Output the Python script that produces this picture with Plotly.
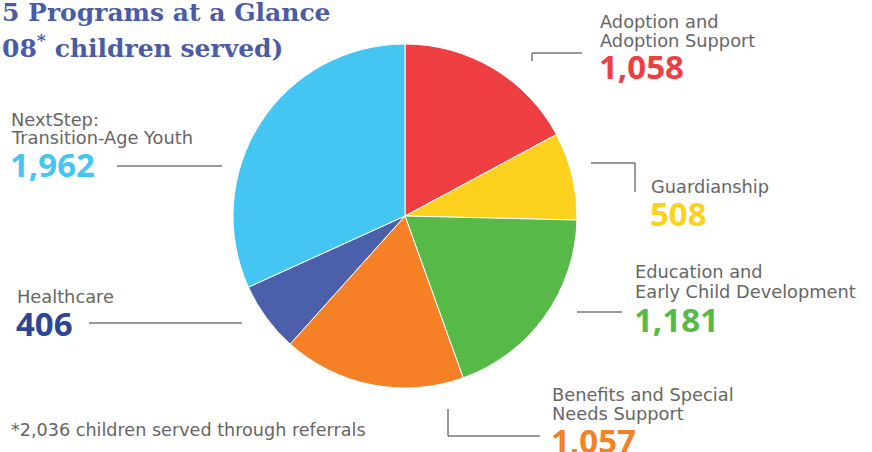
import plotly.graph_objects as go

W, H = 872, 452

categories = ["Adoption and Adoption Support", "Guardianship",
              "Education and Early Child Development", "Benefits and Special Needs Support",
              "Healthcare", "NextStep: Transition-Age Youth"]
values = [1058, 508, 1181, 1057, 406, 1962]
value_labels = ["1,058", "508", "1,181", "1,057", "406", "1,962"]
label_lines = [["Adoption and", "Adoption Support"], ["Guardianship"],
               ["Education and", "Early Child Development"], ["Benefits and Special", "Needs Support"],
               ["Healthcare"], ["NextStep:", "Transition-Age Youth"]]
slice_colors = ["#ee3e42", "#fdd21e", "#57b947", "#f58025", "#4c5fab", "#45c6f2"]
number_colors = ["#ee3e42", "#fdd21e", "#57b947", "#f58025", "#2c4595", "#45c6f2"]
title_lines = ["5 Programs at a Glance", "08<sup>*</sup> children served)"]
footnote = "*2,036 children served through referrals"

# layout helpers (pixel -> paper)
def px(x):
    return x / W

def py(y):
    return 1 - y / H

cx, cy, r = 405, 216, 172

fig = go.Figure(go.Pie(
    labels=categories, values=values, sort=False, direction="clockwise", rotation=0,
    marker=dict(colors=slice_colors, line=dict(color="white", width=1)),
    textinfo="none", hoverinfo="label+value", showlegend=False,
    domain=dict(x=[px(cx - r), px(cx + r)], y=[py(cy + r), py(cy - r)]),
))

# label positions: (x, [line centre y...], number centre y)
label_pos = [
    (599, [21, 40], 67),
    (650, [186], 214),
    (634, [271, 291], 319),
    (551, [394, 413], 440),
    (16, [296], 323),
    (10, [119, 137], 164),
]

annotations = []
for lines, (lx, ys, ny), num, col in zip(label_lines, label_pos, value_labels, number_colors):
    for t, yy in zip(lines, ys):
        annotations.append(dict(x=px(lx - 1), y=py(yy), xref="paper", yref="paper", text=t,
                                showarrow=False, xanchor="left", yanchor="middle",
                                font=dict(family="DejaVu Sans", size=17.8, color="#666666")))
    annotations.append(dict(x=px(lx - 2), y=py(ny), xref="paper", yref="paper", text="<b>%s</b>" % num,
                            showarrow=False, xanchor="left", yanchor="middle",
                            font=dict(family="Open Sans", size=33, color=col)))

annotations.append(dict(x=px(0), y=py(12), xref="paper", yref="paper", text="<b>%s</b>" % title_lines[0],
                        showarrow=False, xanchor="left", yanchor="middle",
                        font=dict(family="DejaVu Serif", size=25, color="#4b5ba6")))
annotations.append(dict(x=px(0), y=py(46), xref="paper", yref="paper", text="<b>%s</b>" % title_lines[1],
                        showarrow=False, xanchor="left", yanchor="middle",
                        font=dict(family="DejaVu Serif", size=25, color="#4b5ba6")))
annotations.append(dict(x=px(9), y=py(430), xref="paper", yref="paper", text=footnote,
                        showarrow=False, xanchor="left", yanchor="middle",
                        font=dict(family="DejaVu Sans", size=17.6, color="#666666")))

leader_paths = [
    [(532, 61), (532, 53), (582, 53)],
    [(591, 163), (635, 163), (635, 192)],
    [(577, 312), (622, 312)],
    [(448, 409), (448, 436), (540, 436)],
    [(89, 323), (242, 323)],
    [(117, 166), (222, 166)],
]
shapes = []
for path in leader_paths:
    for (x0, y0), (x1, y1) in zip(path[:-1], path[1:]):
        shapes.append(dict(type="line", xref="paper", yref="paper",
                           x0=px(x0), y0=py(y0), x1=px(x1), y1=py(y1),
                           line=dict(color="#777777", width=1.5)))

fig.update_layout(width=W, height=H, margin=dict(l=0, r=0, t=0, b=0),
                  paper_bgcolor="white", plot_bgcolor="white",
                  annotations=annotations, shapes=shapes)
fig.write_html("out.html")
